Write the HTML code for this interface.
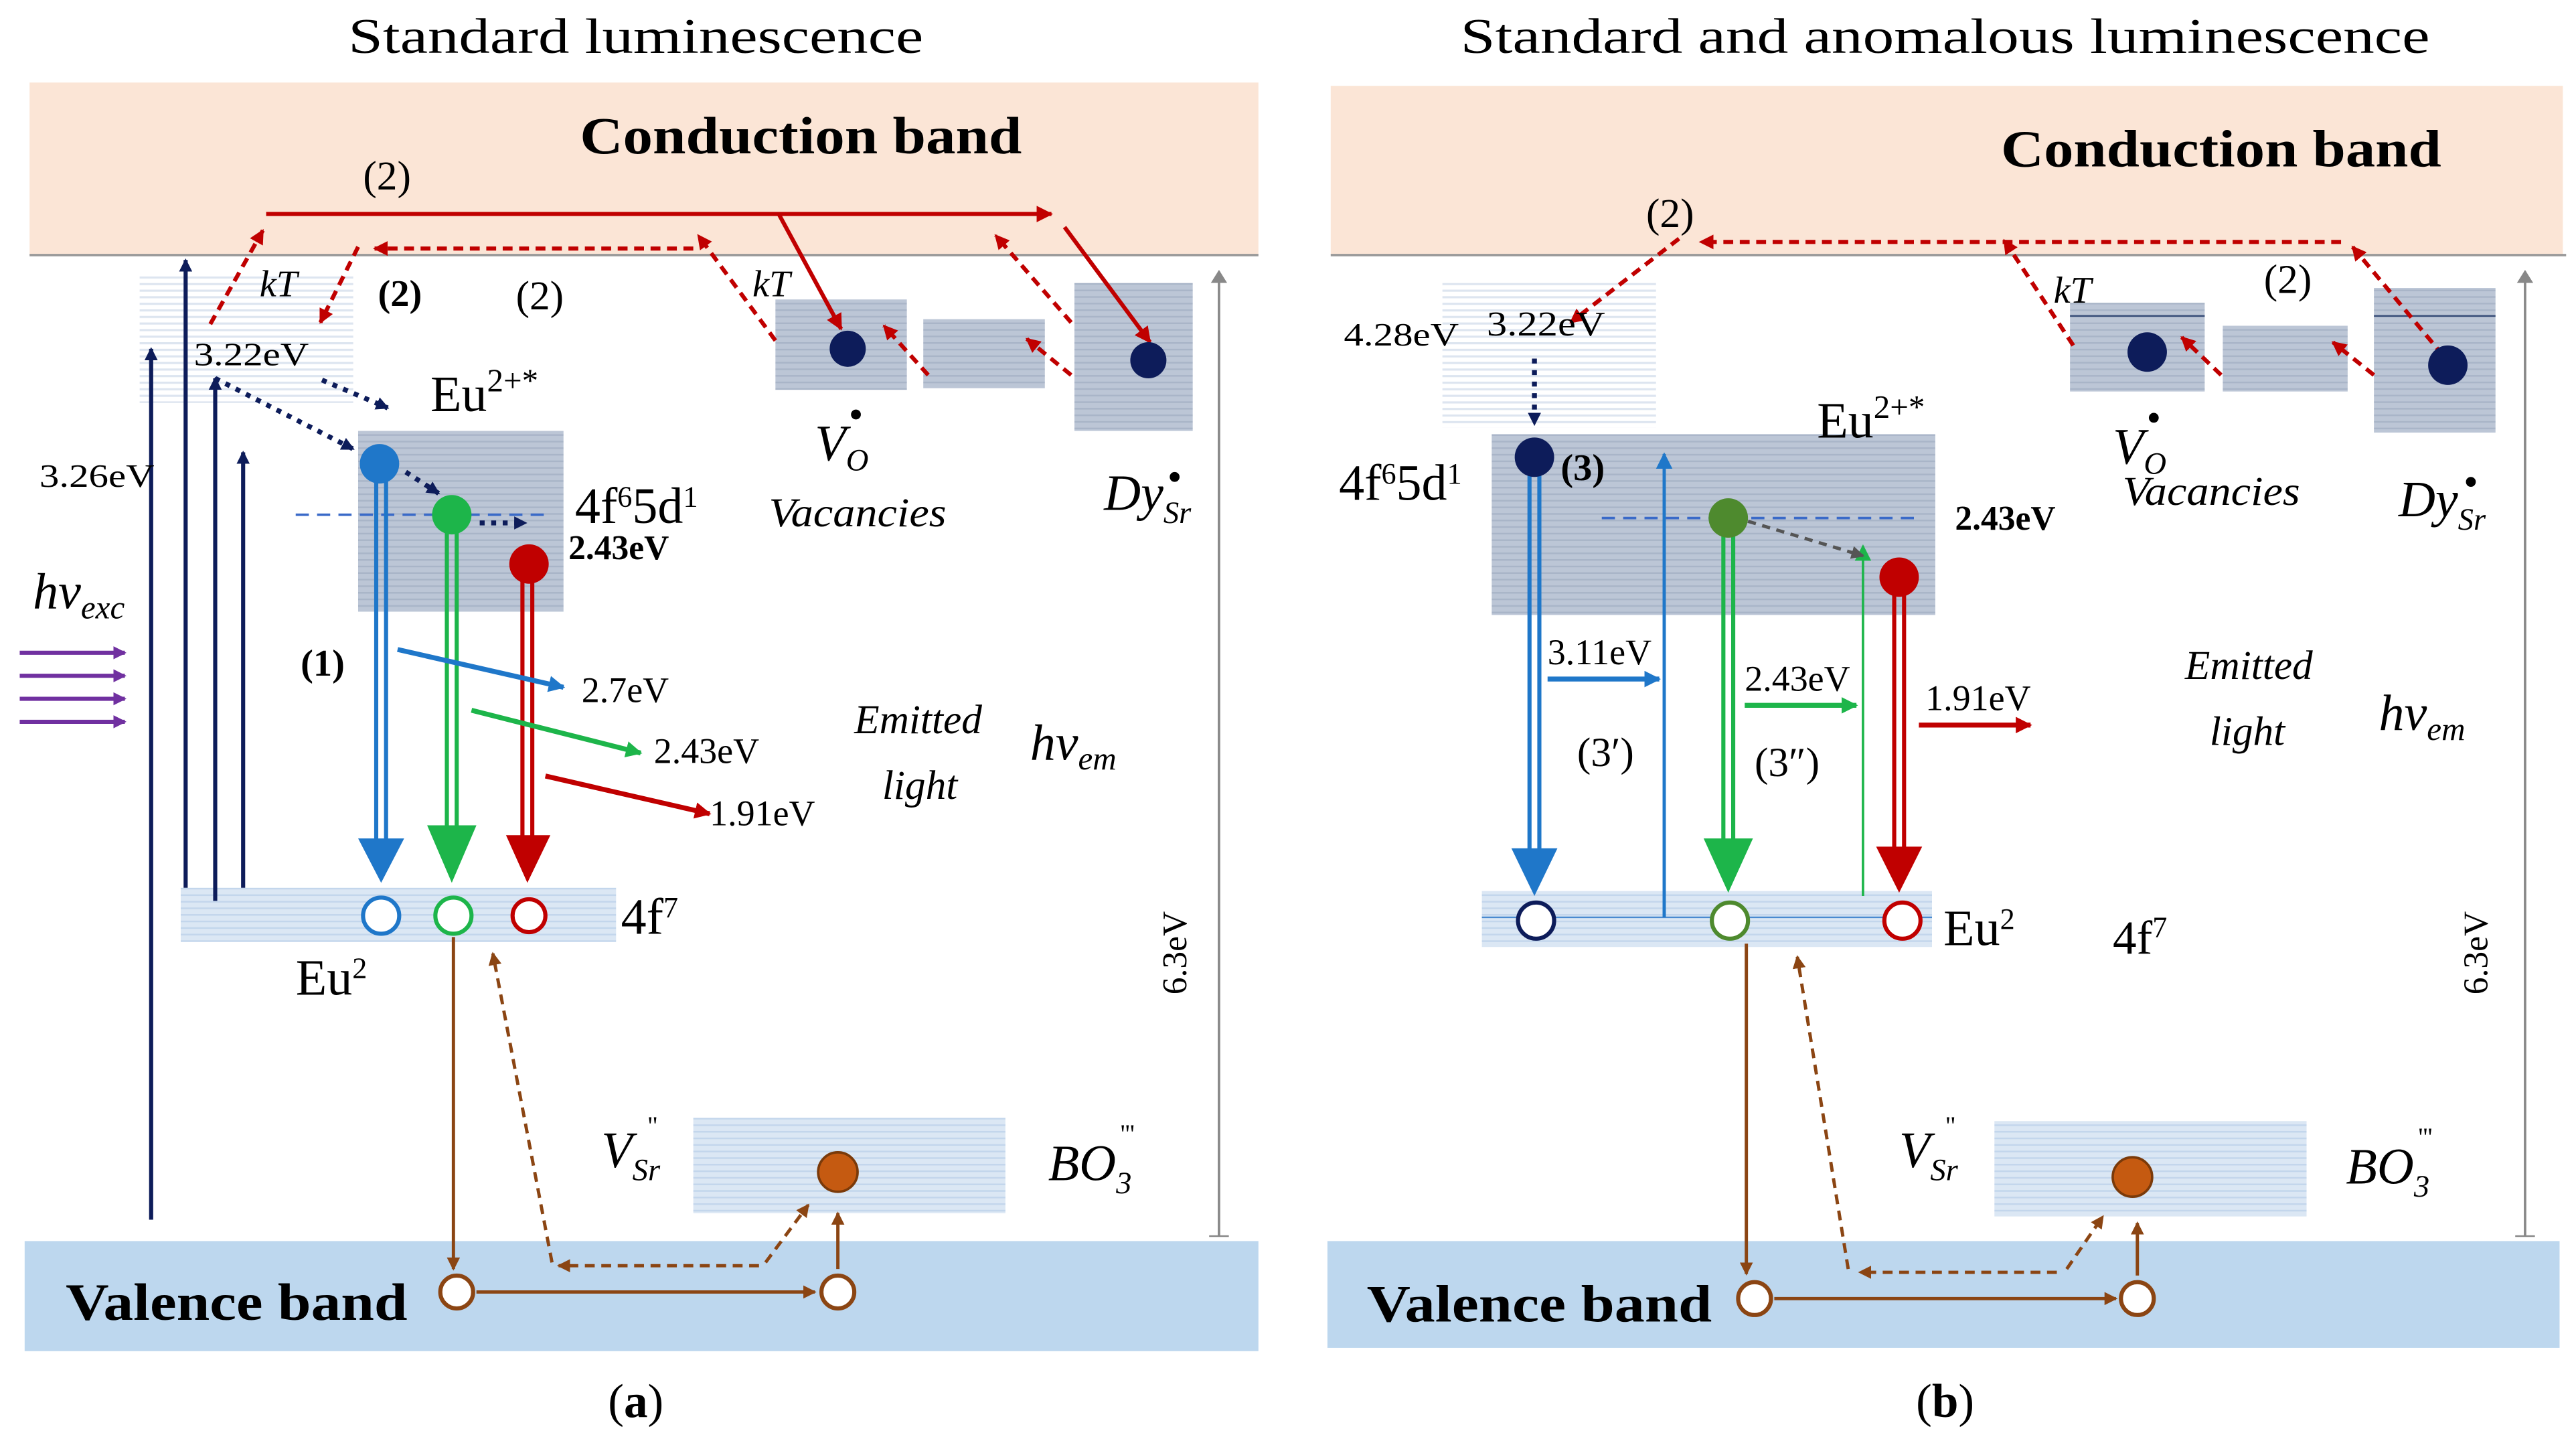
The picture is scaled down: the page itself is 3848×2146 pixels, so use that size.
<!DOCTYPE html>
<html><head><meta charset="utf-8"><style>
html,body{margin:0;padding:0;background:#fff}
svg{display:block}
text{font-family:"Liberation Serif",serif}
</style></head><body>
<svg width="3848" height="2146" viewBox="0 0 1568 874" xmlns="http://www.w3.org/2000/svg">
<defs>
<pattern id="pg" width="4" height="4" patternUnits="userSpaceOnUse"><rect width="4" height="4" fill="#bcc6d6"/><rect width="4" height="1" fill="#a9b5c8"/></pattern>
<pattern id="pl" width="4" height="4" patternUnits="userSpaceOnUse"><rect width="4" height="4" fill="#fff"/><rect width="4" height="1.3" fill="#dde5f0"/></pattern>
<pattern id="pb" width="4" height="4" patternUnits="userSpaceOnUse"><rect width="4" height="4" fill="#dbe7f4"/><rect width="4" height="1" fill="#c3d6ec"/></pattern>
<marker id="ar" markerWidth="9" markerHeight="9" refX="8" refY="4.5" orient="auto" markerUnits="userSpaceOnUse"><path d="M0,0L9,4.5L0,9z" fill="#c00000"/></marker>
<marker id="an" markerWidth="8" markerHeight="8" refX="7" refY="4" orient="auto" markerUnits="userSpaceOnUse"><path d="M0,0L8,4L0,8z" fill="#0d1c5a"/></marker>
<marker id="abl" markerWidth="10" markerHeight="10" refX="9" refY="5" orient="auto" markerUnits="userSpaceOnUse"><path d="M0,0L10,5L0,10z" fill="#1f77c9"/></marker>
<marker id="agr" markerWidth="10" markerHeight="10" refX="9" refY="5" orient="auto" markerUnits="userSpaceOnUse"><path d="M0,0L10,5L0,10z" fill="#1db54a"/></marker>
<marker id="ard" markerWidth="10" markerHeight="10" refX="9" refY="5" orient="auto" markerUnits="userSpaceOnUse"><path d="M0,0L10,5L0,10z" fill="#c00000"/></marker>
<marker id="abr" markerWidth="8" markerHeight="8" refX="7" refY="4" orient="auto" markerUnits="userSpaceOnUse"><path d="M0,0L8,4L0,8z" fill="#8b4513"/></marker>
<marker id="apu" markerWidth="8" markerHeight="8" refX="7" refY="4" orient="auto" markerUnits="userSpaceOnUse"><path d="M0,0L8,4L0,8z" fill="#7030a0"/></marker>
<marker id="agy" markerWidth="8" markerHeight="10" refX="7" refY="5" orient="auto" markerUnits="userSpaceOnUse"><path d="M0,0L8,5L0,10z" fill="#888"/></marker>
<marker id="adg" markerWidth="8" markerHeight="8" refX="7" refY="4" orient="auto" markerUnits="userSpaceOnUse"><path d="M0,0L8,4L0,8z" fill="#555"/></marker>
</defs>

<!-- ===== PANEL A ===== -->
<text x="212" y="32" font-size="30" textLength="350" lengthAdjust="spacingAndGlyphs">Standard luminescence</text>
<rect x="18" y="50" width="748" height="105" fill="#fbe5d6"/>
<line x1="18" y1="155" x2="766" y2="155" stroke="#999" stroke-width="1.5"/>
<text x="353" y="93" font-size="32" font-weight="bold" textLength="269" lengthAdjust="spacingAndGlyphs">Conduction band</text>
<rect x="15" y="755" width="751" height="67" fill="#bdd7ee"/>
<text x="40" y="803" font-size="32" font-weight="bold" textLength="208" lengthAdjust="spacingAndGlyphs">Valence band</text>
<text x="387" y="862" font-size="29" text-anchor="middle">(<tspan font-weight="bold">a</tspan>)</text>

<rect x="85" y="167" width="130" height="78" fill="url(#pl)"/>
<rect x="218" y="262" width="125" height="110" fill="url(#pg)"/>
<rect x="110" y="540" width="265" height="33" fill="url(#pb)"/>
<rect x="472" y="182" width="80" height="55" fill="url(#pg)"/>
<rect x="562" y="194" width="74" height="42" fill="url(#pg)"/>
<rect x="654" y="172" width="72" height="90" fill="url(#pg)"/>
<rect x="422" y="680" width="190" height="58" fill="url(#pb)"/>

<line x1="742" y1="752" x2="742" y2="165" stroke="#888" stroke-width="1.5" marker-end="url(#agy)"/>
<line x1="736" y1="752" x2="748" y2="752" stroke="#888"/>
<text transform="translate(722,605) rotate(-90)" font-size="21">6.3eV</text>

<g stroke="#0d1c5a" stroke-width="2.5" fill="none">
<line x1="92" y1="742" x2="92" y2="212" marker-end="url(#an)"/>
<line x1="113" y1="540" x2="113" y2="158" marker-end="url(#an)"/>
<line x1="131" y1="548" x2="131" y2="230" marker-end="url(#an)"/>
<line x1="148" y1="540" x2="148" y2="275" marker-end="url(#an)"/>
</g>
<text x="24" y="296" font-size="20" textLength="70" lengthAdjust="spacingAndGlyphs">3.26eV</text>
<text x="20" y="370" font-size="31" font-style="italic">hν<tspan font-size="20" dy="6">exc</tspan></text>
<g stroke="#7030a0" stroke-width="2.5">
<line x1="12" y1="397" x2="76" y2="397" marker-end="url(#apu)"/>
<line x1="12" y1="411" x2="76" y2="411" marker-end="url(#apu)"/>
<line x1="12" y1="425" x2="76" y2="425" marker-end="url(#apu)"/>
<line x1="12" y1="439" x2="76" y2="439" marker-end="url(#apu)"/>
</g>

<text x="118" y="222" font-size="20" textLength="70" lengthAdjust="spacingAndGlyphs">3.22eV</text>
<text x="158" y="180" font-size="23" font-style="italic">kT</text>
<text x="230" y="186" font-size="23" font-weight="bold">(2)</text>
<text x="314" y="188" font-size="25">(2)</text>
<text x="221" y="115" font-size="25">(2)</text>
<text x="458" y="180" font-size="23" font-style="italic">kT</text>

<g stroke="#c00000" stroke-width="2.5" fill="none">
<line x1="162" y1="130" x2="640" y2="130" marker-end="url(#ard)"/>
<line x1="474" y1="130" x2="512" y2="200" marker-end="url(#ard)"/>
<line x1="648" y1="138" x2="700" y2="208" marker-end="url(#ard)"/>
</g>
<g stroke="#c00000" stroke-width="2.5" fill="none" stroke-dasharray="6,4">
<line x1="128" y1="197" x2="160" y2="140" marker-end="url(#ar)"/>
<line x1="218" y1="150" x2="195" y2="196" marker-end="url(#ar)"/>
<line x1="422" y1="151" x2="228" y2="151" marker-end="url(#ar)"/>
<line x1="472" y1="207" x2="425" y2="143" marker-end="url(#ar)"/>
<line x1="565" y1="228" x2="538" y2="198" marker-end="url(#ar)"/>
<line x1="652" y1="228" x2="625" y2="206" marker-end="url(#ar)"/>
<line x1="652" y1="196" x2="606" y2="143" marker-end="url(#ar)"/>
</g>
<circle cx="516" cy="212" r="11" fill="#0d1c5a"/>
<circle cx="699" cy="219" r="11" fill="#0d1c5a"/>
<text x="496" y="280" font-size="31" font-style="italic">V<tspan font-size="19" dy="6">O</tspan></text>
<circle cx="521" cy="252" r="3" fill="#000"/>
<text x="468" y="320" font-size="25" font-style="italic" textLength="108" lengthAdjust="spacingAndGlyphs">Vacancies</text>
<text x="672" y="310" font-size="31" font-style="italic">Dy<tspan font-size="19" dy="8">Sr</tspan></text>
<circle cx="715" cy="290" r="3" fill="#000"/>

<g stroke="#0d1c5a" stroke-width="3" stroke-dasharray="3,4" fill="none">
<line x1="131" y1="230" x2="215" y2="273" marker-end="url(#an)"/>
<line x1="196" y1="231" x2="236" y2="248" marker-end="url(#an)"/>
<line x1="247" y1="287" x2="267" y2="300" marker-end="url(#an)"/>
<line x1="292" y1="318" x2="320" y2="318" marker-end="url(#an)"/>
</g>
<text x="262" y="250" font-size="31">Eu<tspan font-size="20" dy="-12">2+*</tspan></text>
<text x="350" y="318" font-size="31">4f<tspan font-size="18" dy="-10">6</tspan><tspan dy="10">5d</tspan><tspan font-size="18" dy="-10">1</tspan></text>
<line x1="180" y1="313" x2="335" y2="313" stroke="#3a6ac8" stroke-width="1.5" stroke-dasharray="8,5"/>
<text x="346" y="340" font-size="21" font-weight="bold">2.43eV</text>

<g fill="none" stroke-width="2.5">
<line x1="229" y1="290" x2="229" y2="512" stroke="#1f77c9"/><line x1="235" y1="290" x2="235" y2="512" stroke="#1f77c9"/>
<line x1="272" y1="320" x2="272" y2="508" stroke="#1db54a"/><line x1="278" y1="320" x2="278" y2="508" stroke="#1db54a"/>
<line x1="318" y1="350" x2="318" y2="510" stroke="#c00000"/><line x1="324" y1="350" x2="324" y2="510" stroke="#c00000"/>
</g>
<path d="M218,510L246,510L232,537z" fill="#1f77c9"/>
<path d="M260,502L290,502L275,537z" fill="#1db54a"/>
<path d="M308,508L335,508L321,537z" fill="#c00000"/>
<circle cx="231" cy="282" r="12" fill="#1f77c9"/>
<circle cx="275" cy="313" r="12" fill="#1db54a"/>
<circle cx="322" cy="343" r="12" fill="#c00000"/>
<circle cx="232" cy="557" r="11" fill="#fff" stroke="#1f77c9" stroke-width="2.5"/>
<circle cx="276" cy="557" r="11" fill="#fff" stroke="#1db54a" stroke-width="2.5"/>
<circle cx="322" cy="557" r="10" fill="#fff" stroke="#c00000" stroke-width="2.5"/>
<text x="378" y="568" font-size="31">4f<tspan font-size="18" dy="-10">7</tspan></text>
<text x="180" y="605" font-size="31">Eu<tspan font-size="18" dy="-10">2</tspan></text>

<text x="183" y="411" font-size="23" font-weight="bold">(1)</text>
<g stroke-width="3" fill="none">
<line x1="242" y1="395" x2="343" y2="418" stroke="#1f77c9" marker-end="url(#abl)"/>
<line x1="287" y1="432" x2="390" y2="458" stroke="#1db54a" marker-end="url(#agr)"/>
<line x1="332" y1="472" x2="432" y2="495" stroke="#c00000" marker-end="url(#ard)"/>
</g>
<text x="354" y="427" font-size="22">2.7eV</text>
<text x="398" y="464" font-size="22">2.43eV</text>
<text x="432" y="502" font-size="22">1.91eV</text>
<text x="520" y="446" font-size="25" font-style="italic">Emitted</text>
<text x="537" y="486" font-size="25" font-style="italic">light</text>
<text x="627" y="462" font-size="31" font-style="italic">hν<tspan font-size="20" dy="6">em</tspan></text>

<g stroke="#8b4513" stroke-width="2" fill="none">
<line x1="276" y1="570" x2="276" y2="772" marker-end="url(#abr)"/>
<line x1="290" y1="786" x2="496" y2="786" marker-end="url(#abr)"/>
<line x1="510" y1="772" x2="510" y2="738" marker-end="url(#abr)"/>
</g>
<g stroke="#8b4513" stroke-width="2" fill="none" stroke-dasharray="6,4">
<line x1="336" y1="768" x2="300" y2="580" marker-end="url(#abr)"/>
<line x1="462" y1="770" x2="340" y2="770" marker-end="url(#abr)"/>
<line x1="466" y1="768" x2="492" y2="733" marker-end="url(#abr)"/>
</g>
<circle cx="278" cy="786" r="10" fill="#fff" stroke="#8b4513" stroke-width="2.5"/>
<circle cx="510" cy="786" r="10" fill="#fff" stroke="#8b4513" stroke-width="2.5"/>
<circle cx="510" cy="713" r="12" fill="#c55a11" stroke="#7a3a0a" stroke-width="1.5"/>
<text x="366" y="710" font-size="31" font-style="italic">V<tspan font-size="19" dy="8">Sr</tspan></text>
<text x="394" y="690" font-size="16">"</text>
<text x="638" y="718" font-size="31" font-style="italic">BO<tspan font-size="19" dy="8">3</tspan></text>
<text x="682" y="695" font-size="16">'''</text>

<!-- ===== PANEL B ===== -->
<text x="889" y="32" font-size="30" textLength="590" lengthAdjust="spacingAndGlyphs">Standard and anomalous luminescence</text>
<rect x="810" y="52" width="750" height="103" fill="#fbe5d6"/>
<line x1="810" y1="155" x2="1562" y2="155" stroke="#999" stroke-width="1.5"/>
<text x="1218" y="101" font-size="32" font-weight="bold" textLength="268" lengthAdjust="spacingAndGlyphs">Conduction band</text>
<rect x="808" y="755" width="750" height="65" fill="#bdd7ee"/>
<text x="832" y="804" font-size="32" font-weight="bold" textLength="210" lengthAdjust="spacingAndGlyphs">Valence band</text>
<text x="1184" y="862" font-size="29" text-anchor="middle">(<tspan font-weight="bold">b</tspan>)</text>

<rect x="878" y="170" width="130" height="90" fill="url(#pl)"/>
<rect x="908" y="264" width="270" height="110" fill="url(#pg)"/>
<rect x="902" y="542" width="274" height="34" fill="url(#pb)"/>
<line x1="902" y1="558" x2="1176" y2="558" stroke="#4a8ad0" stroke-width="1"/>
<rect x="1260" y="184" width="82" height="54" fill="url(#pg)"/>
<line x1="1260" y1="192" x2="1342" y2="192" stroke="#3a4f7a"/>
<rect x="1353" y="198" width="76" height="40" fill="url(#pg)"/>
<rect x="1445" y="175" width="74" height="88" fill="url(#pg)"/>
<line x1="1445" y1="192" x2="1519" y2="192" stroke="#3a4f7a"/>
<rect x="1214" y="682" width="190" height="58" fill="url(#pb)"/>

<line x1="1537" y1="752" x2="1537" y2="165" stroke="#888" stroke-width="1.5" marker-end="url(#agy)"/>
<line x1="1531" y1="752" x2="1543" y2="752" stroke="#888"/>
<text transform="translate(1514,605) rotate(-90)" font-size="21">6.3eV</text>

<text x="1002" y="138" font-size="25">(2)</text>
<text x="1378" y="178" font-size="25">(2)</text>
<text x="1250" y="184" font-size="23" font-style="italic">kT</text>
<g stroke="#c00000" stroke-width="2.5" fill="none" stroke-dasharray="6,4">
<line x1="1425" y1="147" x2="1035" y2="147" marker-end="url(#ar)"/>
<line x1="1022" y1="145" x2="956" y2="196" marker-end="url(#ar)"/>
<line x1="1262" y1="210" x2="1220" y2="146" marker-end="url(#ar)"/>
<line x1="1352" y1="228" x2="1328" y2="205" marker-end="url(#ar)"/>
<line x1="1445" y1="228" x2="1420" y2="208" marker-end="url(#ar)"/>
<line x1="1487" y1="216" x2="1432" y2="150" marker-end="url(#ar)"/>
</g>
<circle cx="1307" cy="214" r="12" fill="#0d1c5a"/>
<circle cx="1490" cy="222" r="12" fill="#0d1c5a"/>
<text x="1286" y="282" font-size="31" font-style="italic">V<tspan font-size="19" dy="6">O</tspan></text>
<circle cx="1311" cy="254" r="3" fill="#000"/>
<text x="1292" y="307" font-size="25" font-style="italic" textLength="108" lengthAdjust="spacingAndGlyphs">Vacancies</text>
<text x="1460" y="314" font-size="31" font-style="italic">Dy<tspan font-size="19" dy="8">Sr</tspan></text>
<circle cx="1504" cy="293" r="3" fill="#000"/>

<text x="818" y="210" font-size="20" textLength="70" lengthAdjust="spacingAndGlyphs">4.28eV</text>
<text x="905" y="204" font-size="21" textLength="72" lengthAdjust="spacingAndGlyphs">3.22eV</text>
<line x1="934" y1="218" x2="934" y2="258" stroke="#0d1c5a" stroke-width="3" stroke-dasharray="3,4" marker-end="url(#an)"/>
<text x="1106" y="266" font-size="31">Eu<tspan font-size="20" dy="-12">2+*</tspan></text>
<text x="815" y="304" font-size="31">4f<tspan font-size="18" dy="-10">6</tspan><tspan dy="10">5d</tspan><tspan font-size="18" dy="-10">1</tspan></text>
<text x="950" y="292" font-size="23" font-weight="bold">(3)</text>
<line x1="975" y1="315" x2="1170" y2="315" stroke="#3a6ac8" stroke-width="1.5" stroke-dasharray="8,5"/>
<text x="1190" y="322" font-size="21" font-weight="bold">2.43eV</text>

<g fill="none" stroke-width="2.5">
<line x1="931" y1="285" x2="931" y2="518" stroke="#1f77c9"/><line x1="937" y1="285" x2="937" y2="518" stroke="#1f77c9"/>
<line x1="1049" y1="320" x2="1049" y2="512" stroke="#1db54a"/><line x1="1055" y1="320" x2="1055" y2="512" stroke="#1db54a"/>
<line x1="1153" y1="355" x2="1153" y2="516" stroke="#c00000"/><line x1="1159" y1="355" x2="1159" y2="516" stroke="#c00000"/>
</g>
<path d="M920,516L948,516L934,545z" fill="#1f77c9"/>
<path d="M1037,510L1067,510L1052,543z" fill="#1db54a"/>
<path d="M1142,515L1170,515L1156,543z" fill="#c00000"/>
<line x1="1013" y1="558" x2="1013" y2="276" stroke="#1f77c9" stroke-width="2" marker-end="url(#abl)"/>
<line x1="1134" y1="545" x2="1134" y2="332" stroke="#1db54a" stroke-width="1.5" marker-end="url(#agr)"/>
<line x1="1064" y1="317" x2="1134" y2="338" stroke="#555" stroke-width="2" stroke-dasharray="5,4" marker-end="url(#adg)"/>
<circle cx="934" cy="278" r="12" fill="#0d1c5a"/>
<circle cx="1052" cy="315" r="12" fill="#4e8a2e"/>
<circle cx="1156" cy="351" r="12" fill="#c00000"/>
<circle cx="935" cy="560" r="11" fill="#fff" stroke="#0d1c5a" stroke-width="2.5"/>
<circle cx="1053" cy="560" r="11" fill="#fff" stroke="#4e8a2e" stroke-width="2.5"/>
<circle cx="1158" cy="560" r="11" fill="#fff" stroke="#c00000" stroke-width="2.5"/>
<text x="1183" y="575" font-size="31">Eu<tspan font-size="18" dy="-10">2</tspan></text>
<text x="1286" y="580" font-size="29">4f<tspan font-size="18" dy="-10">7</tspan></text>

<g stroke-width="3" fill="none">
<line x1="942" y1="413" x2="1010" y2="413" stroke="#1f77c9" marker-end="url(#abl)"/>
<line x1="1062" y1="429" x2="1130" y2="429" stroke="#1db54a" marker-end="url(#agr)"/>
<line x1="1168" y1="441" x2="1236" y2="441" stroke="#c00000" marker-end="url(#ard)"/>
</g>
<text x="942" y="404" font-size="22">3.11eV</text>
<text x="1062" y="420" font-size="22">2.43eV</text>
<text x="1172" y="432" font-size="22">1.91eV</text>
<text x="960" y="466" font-size="25">(3′)</text>
<text x="1068" y="472" font-size="25">(3″)</text>
<text x="1330" y="413" font-size="25" font-style="italic">Emitted</text>
<text x="1345" y="453" font-size="25" font-style="italic">light</text>
<text x="1448" y="444" font-size="31" font-style="italic">hν<tspan font-size="20" dy="6">em</tspan></text>

<g stroke="#8b4513" stroke-width="2" fill="none">
<line x1="1063" y1="574" x2="1063" y2="775" marker-end="url(#abr)"/>
<line x1="1080" y1="790" x2="1288" y2="790" marker-end="url(#abr)"/>
<line x1="1301" y1="776" x2="1301" y2="744" marker-end="url(#abr)"/>
</g>
<g stroke="#8b4513" stroke-width="2" fill="none" stroke-dasharray="6,4">
<line x1="1125" y1="772" x2="1094" y2="582" marker-end="url(#abr)"/>
<line x1="1252" y1="774" x2="1132" y2="774" marker-end="url(#abr)"/>
<line x1="1258" y1="772" x2="1280" y2="740" marker-end="url(#abr)"/>
</g>
<circle cx="1068" cy="790" r="10" fill="#fff" stroke="#8b4513" stroke-width="2.5"/>
<circle cx="1301" cy="790" r="10" fill="#fff" stroke="#8b4513" stroke-width="2.5"/>
<circle cx="1298" cy="716" r="12" fill="#c55a11" stroke="#7a3a0a" stroke-width="1.5"/>
<text x="1156" y="710" font-size="31" font-style="italic">V<tspan font-size="19" dy="8">Sr</tspan></text>
<text x="1184" y="690" font-size="16">"</text>
<text x="1428" y="720" font-size="31" font-style="italic">BO<tspan font-size="19" dy="8">3</tspan></text>
<text x="1472" y="697" font-size="16">'''</text>
</svg>
</body></html>
